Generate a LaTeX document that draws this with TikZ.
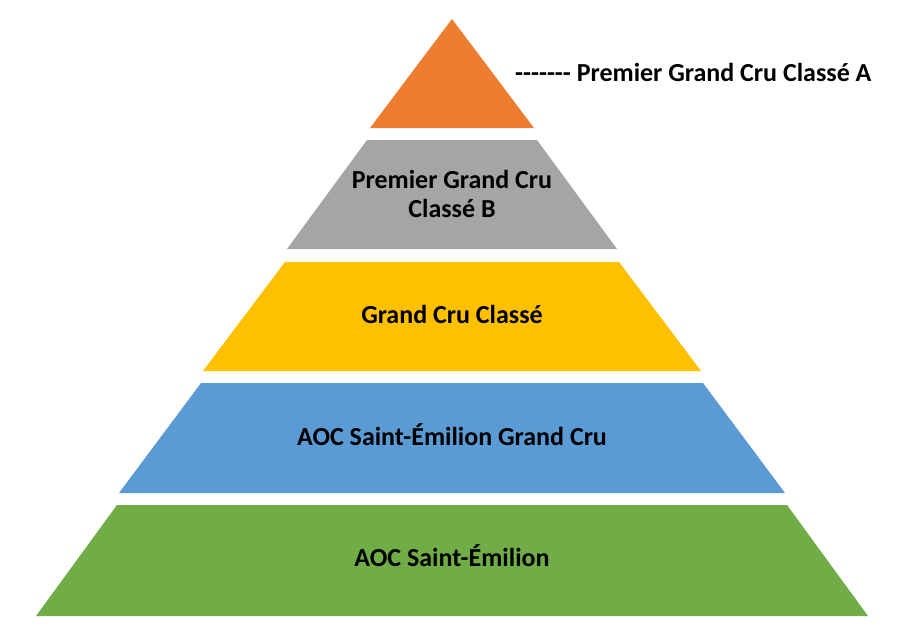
\documentclass[tikz,border=0pt]{standalone}
\usepackage{fontspec}
\setmainfont{Carlito}
\definecolor{offorange}{HTML}{ED7D31}
\definecolor{offgray}{HTML}{A5A5A5}
\definecolor{offyellow}{HTML}{FFC000}
\definecolor{offblue}{HTML}{5B9BD5}
\definecolor{offgreen}{HTML}{70AD47}
\begin{document}
\begin{tikzpicture}[x=1pt,y=-1pt,
  lbl/.style={font=\fontsize{26}{29}\selectfont\bfseries, text=black, align=center, inner sep=0pt}]
\useasboundingbox (0,0) rectangle (910,637);
\fill[white] (0,0) rectangle (910,637);
% layers
\fill[offorange] (452,19) -- (534,128) -- (370,128) -- cycle;
\fill[offgray] (367,140) -- (537,140) -- (617,249) -- (287,249) -- cycle;
\fill[offyellow] (285,262) -- (619,262) -- (701,371) -- (203,371) -- cycle;
\fill[offblue] (201,383) -- (703,383) -- (785,493) -- (119,493) -- cycle;
\fill[offgreen] (117,505) -- (787,505) -- (868,616) -- (36,616) -- cycle;
% labels
\node[lbl, anchor=west] (la) at (515,72) {-{}-{}-{}-{}-{}-{}- Premier Grand Cru Classé A};
\node[lbl] (lb) at (452,194) {Premier Grand Cru\\Classé B};
\node[lbl] (lc) at (452,314) {Grand Cru Classé};
\node[lbl] (ld) at (452,435) {AOC Saint-Émilion Grand Cru};
\node[lbl] (le) at (452,556) {AOC Saint-Émilion};
\end{tikzpicture}
\end{document}
